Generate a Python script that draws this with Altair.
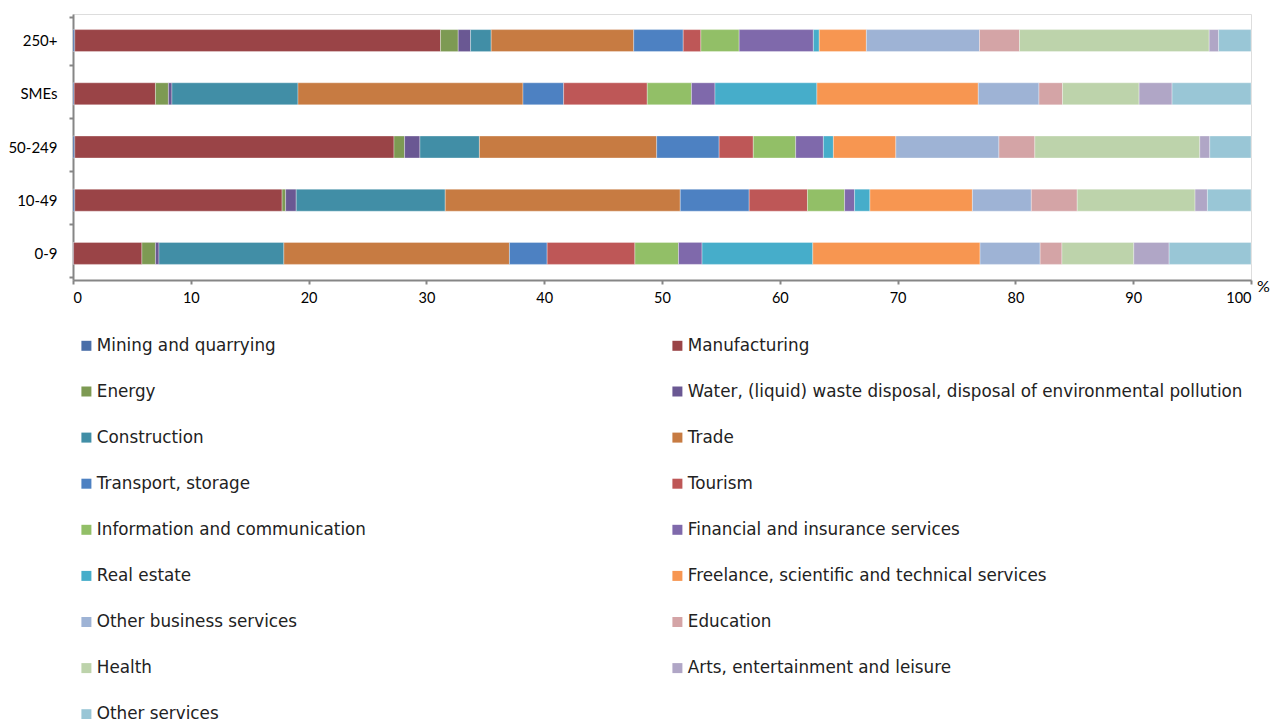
import altair as alt
import pandas as pd

# Enterprise size classes, listed top to bottom
size_classes = ["250+", "SMEs", "50-249", "10-49", "0-9"]

# Economic sectors in stacking order
sectors = [
    "Mining and quarrying",
    "Manufacturing",
    "Energy",
    "Water, (liquid) waste disposal, disposal of environmental pollution",
    "Construction",
    "Trade",
    "Transport, storage",
    "Tourism",
    "Information and communication",
    "Financial and insurance services",
    "Real estate",
    "Freelance, scientific and technical services",
    "Other business services",
    "Education",
    "Health",
    "Arts, entertainment and leisure",
    "Other services",
]

sector_colors = [
    "#4A6EA8", "#9A4447", "#7D9A53", "#6A5893", "#418EA6", "#C77B42",
    "#4D81C2", "#BE5757", "#92BF67", "#7F69AB", "#46ADCA", "#F79651",
    "#9EB3D5", "#D4A4A6", "#BDD3AB", "#B0A6C6", "#99C6D6",
]

# Share of each sector (%) per size class, in sector order
share_250_plus = [0.15, 31.05, 1.5, 1.05, 1.75, 12.1, 4.2, 1.5, 3.25, 6.3, 0.5, 4.0, 9.6, 3.4, 16.1, 0.8, 2.75]
share_smes = [0.1, 6.9, 1.1, 0.3, 10.7, 19.1, 3.45, 7.1, 3.75, 2.0, 8.65, 13.7, 5.15, 2.0, 6.5, 2.8, 6.7]
share_50_249 = [0.15, 27.1, 0.9, 1.3, 5.05, 15.05, 5.3, 2.9, 3.6, 2.35, 0.85, 5.3, 8.75, 3.05, 14.0, 0.85, 3.5]
share_10_49 = [0.15, 17.6, 0.3, 0.9, 12.65, 19.95, 5.85, 4.95, 3.15, 0.85, 1.3, 8.7, 5.0, 3.9, 10.0, 1.05, 3.7]
share_0_9 = [0.05, 5.8, 1.15, 0.3, 10.6, 19.15, 3.2, 7.45, 3.7, 2.0, 9.4, 14.2, 5.1, 1.85, 6.1, 3.0, 6.95]

shares = {
    "250+": share_250_plus,
    "SMEs": share_smes,
    "50-249": share_50_249,
    "10-49": share_10_49,
    "0-9": share_0_9,
}

rows = []
for size in size_classes:
    for i, (sector, value) in enumerate(zip(sectors, shares[size])):
        rows.append({"size": size, "sector": sector, "idx": i, "share": value})
df = pd.DataFrame(rows)

# The legend fills its two columns top-down, so list even-indexed sectors
# first and odd-indexed ones second to read left-to-right row by row.
legend_order = list(range(0, len(sectors), 2)) + list(range(1, len(sectors), 2))
legend_domain = [sectors[i] for i in legend_order]
legend_range = [sector_colors[i] for i in legend_order]

AXIS_GREY = "#868686"

chart = (
    alt.Chart(df)
    .mark_bar(size=22, stroke="white", strokeWidth=0.6, strokeOpacity=0.55)
    .encode(
        x=alt.X(
            "share:Q",
            stack="zero",
            scale=alt.Scale(domain=[0, 100], nice=False, zero=True),
            axis=alt.Axis(
                values=list(range(0, 101, 10)),
                grid=False,
                domainColor=AXIS_GREY,
                domainWidth=2,
                tickColor=AXIS_GREY,
                tickWidth=2,
                tickSize=4,
                labelFont="Lato",
                labelFontSize=14.5,
                labelColor="#000000",
                labelPadding=7,
                title="%",
                titleFont="Lato",
                titleFontSize=16,
                titleFontWeight="normal",
                titleColor="#000000",
                titleX=1190,
                titleY=6,
                titleAlign="center",
                titleBaseline="middle",
            ),
        ),
        y=alt.Y(
            "size:N",
            sort=size_classes,
            axis=alt.Axis(
                title=None,
                tickBand="extent",
                domainColor=AXIS_GREY,
                domainWidth=2,
                tickColor=AXIS_GREY,
                tickWidth=2,
                tickSize=4,
                labelFont="Lato",
                labelFontSize=15,
                labelColor="#000000",
                labelPadding=12,
            ),
        ),
        color=alt.Color(
            "sector:N",
            scale=alt.Scale(domain=legend_domain, range=legend_range),
            legend=alt.Legend(
                title=None,
                orient="none",
                legendX=5,
                legendY=323,
                columns=2,
                columnPadding=303,
                rowPadding=28.1,
                symbolType="square",
                symbolSize=100,
                symbolStrokeWidth=0,
                labelFont="DejaVu Sans",
                labelFontSize=16.8,
                labelColor="#222222",
                labelOffset=2,
                labelLimit=800,
                padding=0,
            ),
        ),
        order=alt.Order("idx:Q", sort="ascending"),
        tooltip=["size:N", "sector:N", "share:Q"],
    )
    .properties(
        width=1178,
        height=266,
        autosize="none",
        padding={"left": 73, "top": 14, "right": 29, "bottom": 439},
    )
    .configure_view(stroke=None)
    .configure(background="white")
)

chart.save("out.html", embed_options={"renderer": "svg", "actions": False})
